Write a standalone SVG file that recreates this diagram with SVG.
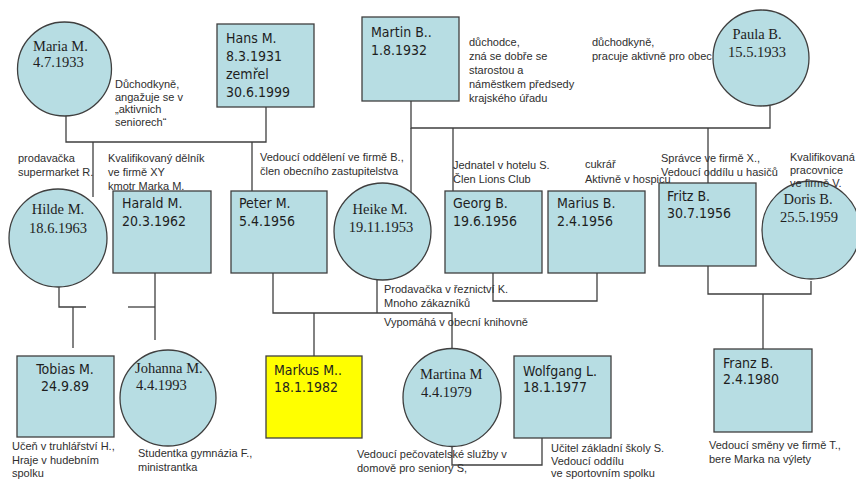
<svg xmlns="http://www.w3.org/2000/svg" width="856" height="479" viewBox="0 0 856 479">
<style>
.bg{fill:#ffffff}
.box{fill:#b7dde3;stroke:#3f3f3f;stroke-width:1.3}
.me{fill:#ffff00;stroke:#3f3f3f;stroke-width:1.3}
.circ{fill:#b7dde3;stroke:#3f3f3f;stroke-width:1.3}
.ln{fill:none;stroke:#3f3f3f;stroke-width:1.3}
.bt{font-family:"DejaVu Sans Condensed","DejaVu Sans",sans-serif;font-stretch:condensed;font-size:14px;fill:#1e1e1e}
.ct{font-family:"Liberation Serif",serif;font-size:14.5px;fill:#1e1e1e}
.nt{font-family:"Liberation Sans",Arial,sans-serif;font-size:11px;fill:#2e2e2e}
.mid{text-anchor:middle}
</style>
<rect class="bg" x="0" y="0" width="856" height="479"/>
<g id="connectors">
<path class="ln" d="M66,115 V142 H266 V107"/>
<path class="ln" d="M93,142 V197"/>
<path class="ln" d="M252,142 V191"/>
<path class="ln" d="M411,101 V128 H770 V106"/>
<path class="ln" d="M411,128 V200"/>
<path class="ln" d="M453,128 V191"/>
<path class="ln" d="M708,128 V183"/>
<path class="ln" d="M59,287 V307 H86"/>
<path class="ln" d="M128,307 H155"/>
<path class="ln" d="M155,273 V340"/>
<path class="ln" d="M73,307 V348"/>
<path class="ln" d="M273,273 V313 H452 V349"/>
<path class="ln" d="M377,313 V280"/>
<path class="ln" d="M314,313 V356"/>
<path class="ln" d="M493,273 V301 H597 V273"/>
<path class="ln" d="M708,266 V294 H811 V281"/>
<path class="ln" d="M763,294 V349"/>
<path class="ln" d="M452,446 V465 H542 V438"/>
</g>
<g id="notes-back">
<text class="nt" x="108" y="190">kmotr Marka M.</text>
</g>
<g id="maria"><circle class="circ" cx="64.5" cy="69" r="47"/><text class="ct" x="33" y="51">Maria M.</text><text class="ct" x="33" y="67">4.7.1933</text></g>
<g id="hans"><rect class="box" x="217" y="24" width="97" height="83"/><text class="bt" x="226" y="43">Hans M.</text><text class="bt" x="226" y="61">8.3.1931</text><text class="bt" x="226" y="79">zemřel</text><text class="bt" x="226" y="97">30.6.1999</text></g>
<g id="martin"><rect class="box" x="362" y="17" width="97" height="84"/><text class="bt" x="371" y="37">Martin B..</text><text class="bt" x="371" y="55">1.8.1932</text></g>
<g id="paula"><circle class="circ" cx="761" cy="58" r="48"/><text class="ct mid" x="757" y="39">Paula B.</text><text class="ct mid" x="757" y="57">15.5.1933</text></g>
<g id="hilde"><circle class="circ" cx="58" cy="238" r="49"/><text class="ct mid" x="58" y="214">Hilde M.</text><text class="ct mid" x="58" y="233">18.6.1963</text></g>
<g id="harald"><rect class="box" x="113" y="191" width="98" height="82"/><text class="bt" x="122" y="208">Harald M.</text><text class="bt" x="122" y="226">20.3.1962</text></g>
<g id="peter"><rect class="box" x="231" y="191" width="96" height="82"/><text class="bt" x="239" y="208">Peter M.</text><text class="bt" x="239" y="226">5.4.1956</text></g>
<g id="heike"><circle class="circ" cx="382.5" cy="231.5" r="48.5"/><text class="ct mid" x="380" y="214">Heike M.</text><text class="ct mid" x="381" y="232">19.11.1953</text></g>
<g id="georg"><rect class="box" x="445" y="191" width="97" height="82"/><text class="bt" x="453" y="208">Georg B.</text><text class="bt" x="453" y="226">19.6.1956</text></g>
<g id="marius"><rect class="box" x="548" y="191" width="97" height="82"/><text class="bt" x="557" y="208">Marius B.</text><text class="bt" x="557" y="226">2.4.1956</text></g>
<g id="fritz"><rect class="box" x="659" y="183" width="97" height="83"/><text class="bt" x="667" y="201">Fritz B.</text><text class="bt" x="667" y="218">30.7.1956</text></g>
<g id="doris"><circle class="circ" cx="811" cy="230" r="49"/><text class="ct mid" x="808" y="204">Doris B.</text><text class="ct mid" x="809" y="222">25.5.1959</text></g>
<g id="tobias"><rect class="box" x="17" y="356" width="97" height="81"/><text class="bt mid" x="65" y="374">Tobias M.</text><text class="bt mid" x="65" y="391">24.9.89</text></g>
<g id="johanna"><circle class="circ" cx="168" cy="398" r="48"/><text class="ct" x="135" y="373">Johanna M.</text><text class="ct" x="136" y="390">4.4.1993</text></g>
<g id="markus"><rect class="me" x="266" y="356" width="96" height="82"/><text class="bt" x="274" y="375">Markus M..</text><text class="bt" x="274" y="392">18.1.1982</text></g>
<g id="martina"><circle class="circ" cx="452" cy="397.5" r="49"/><text class="ct" x="420" y="379">Martina M</text><text class="ct" x="421" y="397">4.4.1979</text></g>
<g id="wolfgang"><rect class="box" x="514" y="356" width="97" height="82"/><text class="bt" x="523" y="376">Wolfgang L.</text><text class="bt" x="523" y="392">18.1.1977</text></g>
<g id="franz"><rect class="box" x="714" y="349" width="98" height="83"/><text class="bt" x="723" y="368">Franz B.</text><text class="bt" x="723" y="384">2.4.1980</text></g>
<g id="notes">
<text class="nt" x="115" y="88">Důchodkyně,</text>
<text class="nt" x="115" y="101">angažuje se v</text>
<text class="nt" x="115" y="113">„aktivnich</text>
<text class="nt" x="115" y="126">seniorech“</text>
<text class="nt" x="469" y="46">důchodce,</text>
<text class="nt" x="469" y="60">zná se dobře se</text>
<text class="nt" x="469" y="74">starostou a</text>
<text class="nt" x="469" y="88">náměstkem předsedy</text>
<text class="nt" x="469" y="102">krajského úřadu</text>
<text class="nt" x="592" y="46">důchodkyně,</text>
<text class="nt" x="592" y="60">pracuje aktivně pro obec</text>
<text class="nt" x="18" y="162">prodavačka</text>
<text class="nt" x="18" y="176">supermarket R.</text>
<text class="nt" x="108" y="162">Kvalifikovaný dělník</text>
<text class="nt" x="108" y="176">ve firmě XY</text>
<text class="nt" x="260" y="161">Vedoucí oddělení ve firmě B.,</text>
<text class="nt" x="260" y="175">člen obecního zastupitelstva</text>
<text class="nt" x="453" y="169">Jednatel v hotelu S.</text>
<text class="nt" x="453" y="183">Člen Lions Club</text>
<text class="nt" x="585" y="168">cukrář</text>
<text class="nt" x="585" y="183">Aktivně v hospicu</text>
<text class="nt" x="661" y="162">Správce ve firmě X.,</text>
<text class="nt" x="661" y="176">Vedoucí oddílu  u hasičů</text>
<text class="nt" x="790" y="161">Kvalifikovaná</text>
<text class="nt" x="790" y="174">pracovnice</text>
<text class="nt" x="790" y="187">ve firmě V.</text>
<text class="nt" x="384" y="293">Prodavačka v řeznictví K.</text>
<text class="nt" x="384" y="307">Mnoho zákazníků</text>
<text class="nt" x="384" y="326">Vypomáhá v obecní knihovně</text>
<text class="nt" x="12" y="450">Učeň v truhlářství H.,</text>
<text class="nt" x="12" y="464">Hraje v hudebním</text>
<text class="nt" x="12" y="477">spolku</text>
<text class="nt" x="138" y="457">Studentka gymnázia F.,</text>
<text class="nt" x="138" y="471">ministrantka</text>
<text class="nt" x="357" y="458">Vedoucí pečovatelské služby v</text>
<text class="nt" x="357" y="472">domově  pro seniory S,</text>
<text class="nt" x="551" y="452">Učitel základní školy S.</text>
<text class="nt" x="551" y="465">Vedoucí oddílu</text>
<text class="nt" x="551" y="477">ve sportovním spolku</text>
<text class="nt" x="709" y="449">Vedoucí směny ve firmě T.,</text>
<text class="nt" x="709" y="463">bere Marka na výlety</text>
</g>
</svg>
